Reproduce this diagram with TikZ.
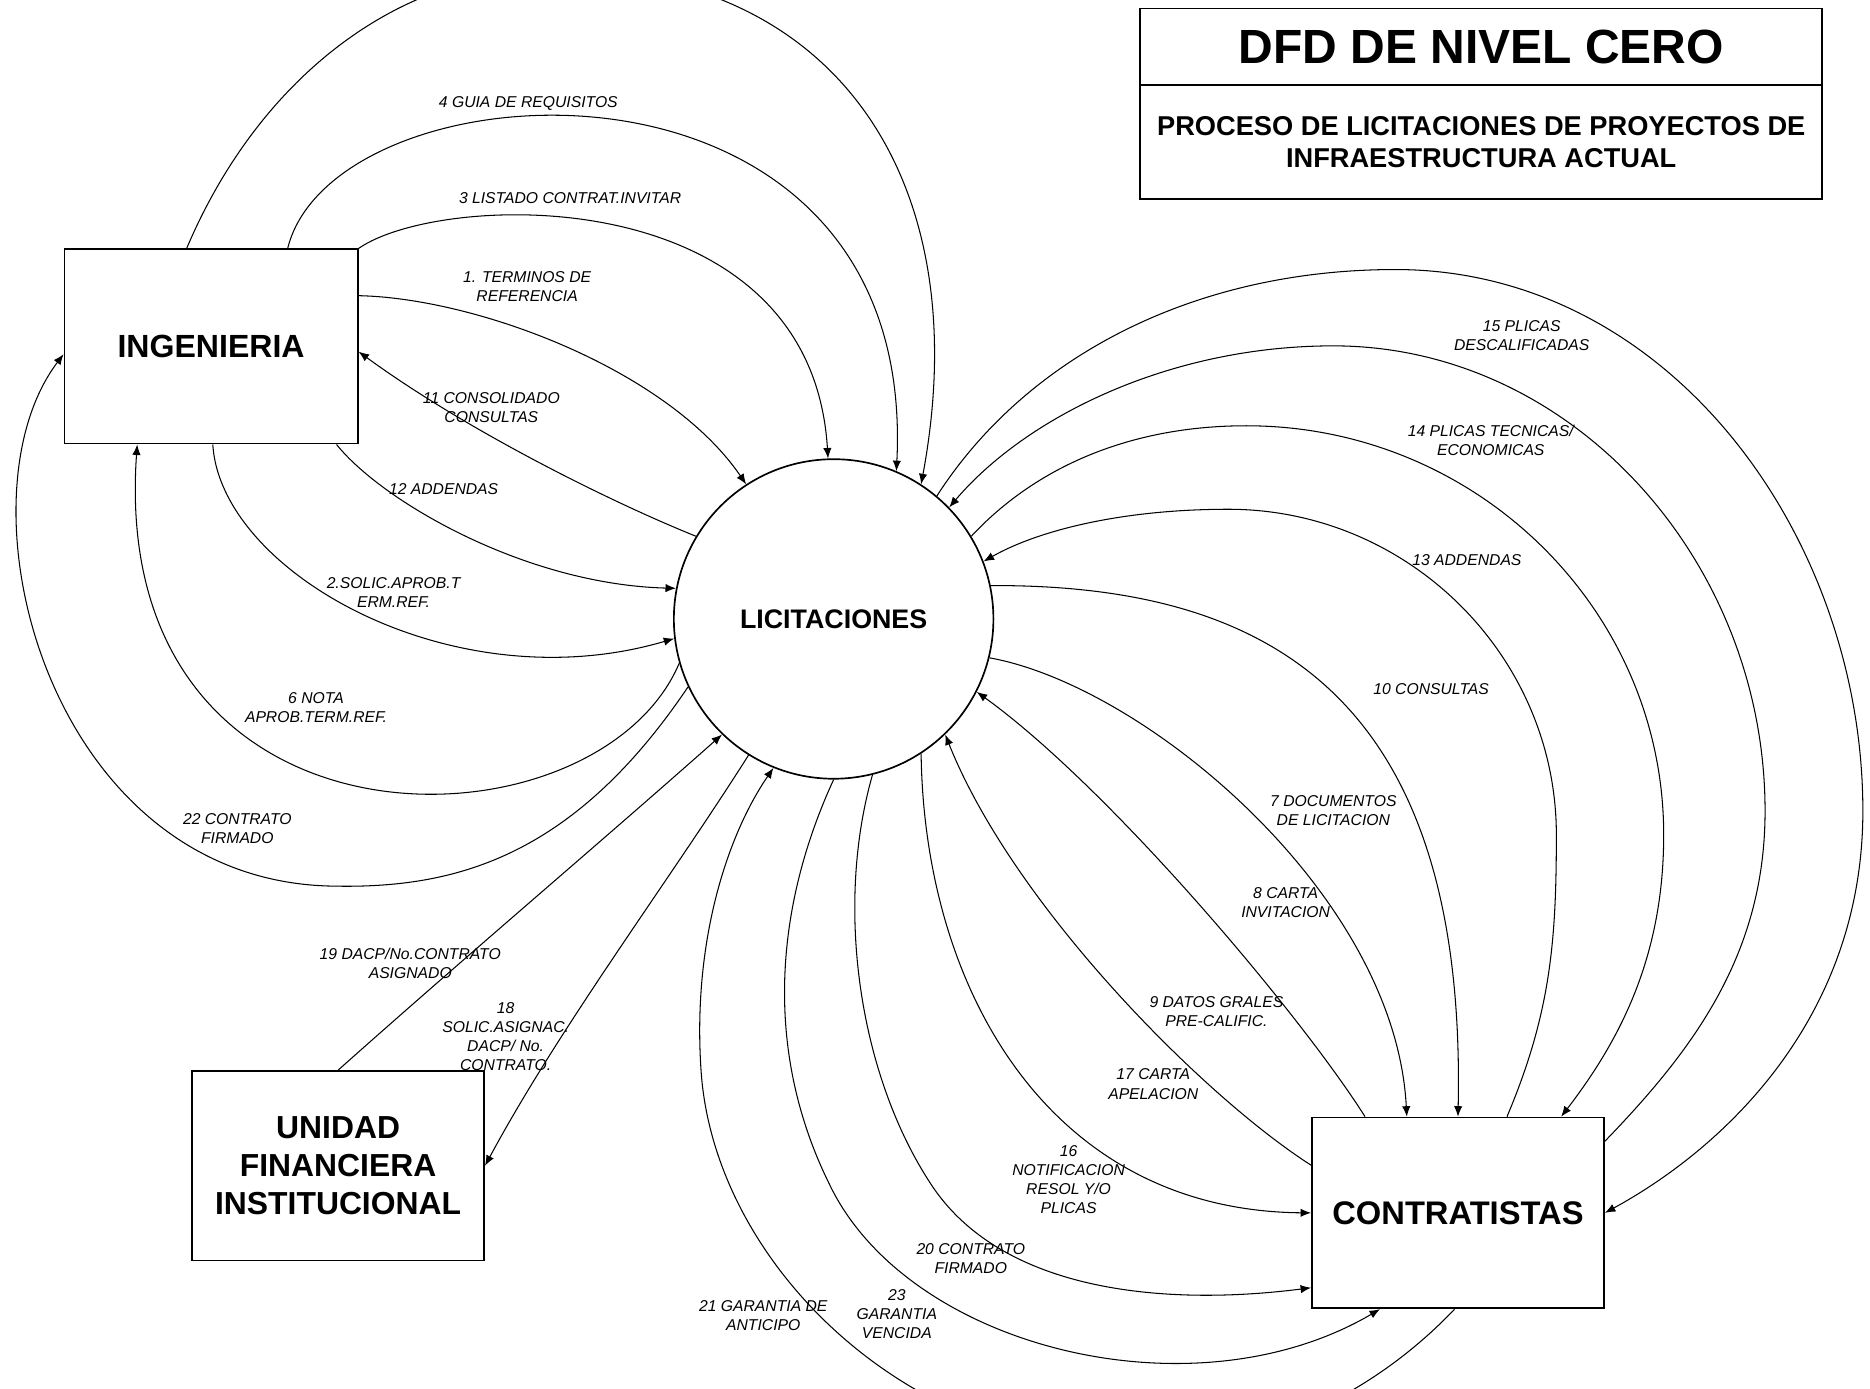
\documentclass[tikz,border=0pt]{standalone}
\usepackage{fontspec}
\setmainfont{Liberation Sans}
\usepackage{tikz}
\usepackage{xcolor}
\usetikzlibrary{arrows.meta}

\begin{document}
\begin{tikzpicture}[x=0.02cm,y=-0.02cm]
	\tikzstyle{every node}+=[inner sep=0pt]
	\tikzstyle{entidad}=[draw,line width=0.8pt,minimum width=4.9cm,minimum height=3.2cm,align=center]
	\tikzstyle{proceso}=[draw,circle,line width=0.8pt,minimum size=5.36cm,font=\bfseries\fontsize{12.8}{15}\selectfont]
	\tikzstyle{flecha}=[line width=0.5pt,-{Latex[length=5pt,width=4pt]}]
	\tikzstyle{etiqueta}=[font=\itshape\fontsize{7.5}{9.1}\selectfont,align=center]
	\useasboundingbox (0,0) rectangle (1568,1164);
	\clip (0,0) rectangle (1568,1164);
	\node [entidad,minimum width=4.92cm,minimum height=3.26cm,font=\bfseries\fontsize{15.3}{18}\selectfont] (ing) at (177,290.5) {INGENIERIA};
	\node [proceso] (lic) at (699,519) {LICITACIONES};
	\node [entidad,minimum height=3.18cm,font=\bfseries\fontsize{15.2}{18.2}\selectfont] (ufi) at (283.5,977.5) {UNIDAD\\FINANCIERA\\INSTITUCIONAL};
	\node [entidad,font=\bfseries\fontsize{15.6}{18}\selectfont] (ctr) at (1222.5,1017) {CONTRATISTAS};
	\node [draw,line width=0.8pt,minimum width=11.44cm,minimum height=1.28cm,font=\bfseries\fontsize{22.9}{26}\selectfont] (titulo) at (1242,39) {DFD DE NIVEL CERO};
	\node [draw,line width=0.8pt,minimum width=11.44cm,minimum height=1.92cm,font=\bfseries\fontsize{13}{15.3}\selectfont,align=center] (subtitulo) at (1242,119) {PROCESO DE LICITACIONES DE PROYECTOS DE\\INFRAESTRUCTURA ACTUAL};
	\draw [flecha] (ing.104) .. controls (215,70) and (330,-25) .. (467,-25) .. controls (700,-25) and (820,150) .. (lic.57);
	\draw [flecha] (ing.52) .. controls (280,50) and (770,20) .. (lic.67);
	\draw (443,87) node [etiqueta] (l4) {4 GUIA DE REQUISITOS};
	\draw [flecha] (ing.north east) .. controls (370,160) and (680,150) .. (lic.92);
	\draw (478,166) node [etiqueta] (l3) {3 LISTADO CONTRAT.INVITAR};
	\draw [flecha] (ing.19) .. controls (400,250) and (560,310) .. (lic.123);
	\draw (442,240) node [etiqueta] (l1) {1. TERMINOS DE\\REFERENCIA};
	\draw [flecha] (lic.149) .. controls (510,420) and (390,360) .. (ing.-2);
	\draw (412,342) node [etiqueta] (l11) {11 CONSOLIDADO\\CONSULTAS};
	\draw [flecha] (ing.-38) .. controls (320,420) and (440,490) .. (lic.169);
	\draw (372,410) node [etiqueta] (l12) {12 ADDENDAS};
	\draw [flecha] (ing.-89) .. controls (185,480) and (380,590) .. (lic.-173);
	\draw (330,497) node [etiqueta] (l2) {2.SOLIC.APROB.T\\ERM.REF.};
	\draw [flecha] (lic.-164) .. controls (500,720) and (90,730) .. (ing.-127);
	\draw (265,593) node [etiqueta] (l6) {6 NOTA\\APROB.TERM.REF.};
	\draw [flecha] (lic.-155) .. controls (480,720) and (380,745) .. (280,743) .. controls (40,740) and (-40,420) .. (ing.-177);
	\draw (199,695) node [etiqueta] (l22) {22 CONTRATO\\FIRMADO};
	\draw [flecha] (ufi.north) .. controls (395,798) and (505,705) .. (lic.-134);
	\draw (344,808) node [etiqueta] (l19) {19 DACP/No.CONTRATO\\ASIGNADO};
	\draw [flecha] (lic.-122) .. controls (560,740) and (470,860) .. (ufi.east);
	\draw (424,869) node [etiqueta] (l18) {18\\SOLIC.ASIGNAC.\\DACP/ No.\\CONTRATO.};
	\draw [flecha] (lic.50) .. controls (860,300) and (1000,226) .. (1170,226) .. controls (1400,226) and (1562,450) .. (1562,680) .. controls (1562,850) and (1450,960) .. (ctr.east);
	\draw (1276,281) node [etiqueta] (l15) {15 PLICAS\\DESCALIFICADAS};
	\draw [flecha] (ctr.26) .. controls (1420,880) and (1480,800) .. (1480,680) .. controls (1480,470) and (1318,290) .. (1118,290) .. controls (980,290) and (860,350) .. (lic.44);
	\draw (1250,369) node [etiqueta] (l14) {14 PLICAS TECNICAS/\\ECONOMICAS};
	\draw [flecha] (lic.31) .. controls (870,390) and (950,357) .. (1045,357) .. controls (1238,357) and (1395,511) .. (1395,700) .. controls (1395,800) and (1360,870) .. (ctr.43);
	\draw (1230,470) node [etiqueta] (l13) {13 ADDENDAS};
	\draw [flecha] (ctr.63) .. controls (1300,850) and (1305,790) .. (1305,700) .. controls (1305,550) and (1181,427) .. (1030,427) .. controls (940,427) and (870,445) .. (lic.21);
	\draw (1200,578) node [etiqueta] (l10) {10 CONSULTAS};
	\draw [flecha] (lic.12) .. controls (1060,490) and (1230,580) .. (ctr.north);
	\draw [flecha] (lic.-14) .. controls (960,575) and (1170,750) .. (ctr.118);
	\draw (1118,680) node [etiqueta] (l7) {7 DOCUMENTOS\\DE LICITACION};
	\draw [flecha] (ctr.134) .. controls (1090,850) and (930,660) .. (lic.-27);
	\draw (1078,757) node [etiqueta] (l8) {8 CARTA\\INVITACION};
	\draw (1020,848) node [etiqueta] (l9) {9 DATOS GRALES\\PRE-CALIFIC.};
	\draw [flecha] (ctr.162) .. controls (1010,920) and (850,760) .. (lic.-46);
	\draw (967,909) node [etiqueta] (l17) {17 CARTA\\APELACION};
	\draw [flecha] (lic.-57) .. controls (775,830) and (880,1015) .. (ctr.west);
	\draw (896,989) node [etiqueta] (l16) {16\\NOTIFICACION\\RESOL Y/O\\PLICAS};
	\draw [flecha] (lic.-76) .. controls (700,760) and (720,900) .. (780,992) .. controls (840,1085) and (980,1095) .. (ctr.-153);
	\draw (814,1055) node [etiqueta] (l20) {20 CONTRATO\\FIRMADO};
	\draw [flecha] (lic.south) .. controls (650,760) and (640,880) .. (695,992) .. controls (760,1130) and (1000,1190) .. (ctr.-129);
	\draw (752,1102) node [etiqueta] (l23) {23\\GARANTIA\\VENCIDA};
	\draw [flecha] (ctr.-92) .. controls (1170,1150) and (1080,1215) .. (950,1215) .. controls (760,1215) and (600,1060) .. (588,900) .. controls (580,790) and (610,700) .. (lic.-112);
	\draw (640,1103) node [etiqueta] (l21) {21 GARANTIA DE\\ANTICIPO};
\end{tikzpicture}
\end{document}
